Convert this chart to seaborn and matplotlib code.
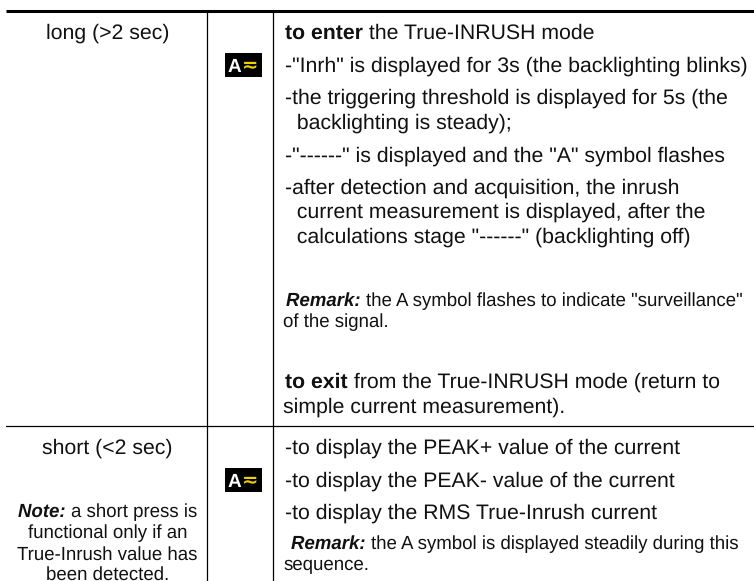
import seaborn as sns
import matplotlib.pyplot as plt
from matplotlib.patches import Rectangle

sns.set_theme(style="white")
plt.rcParams['font.family'] = ['Liberation Sans', 'DejaVu Sans']
plt.rcParams['text.hinting'] = 'no_hinting'

# table text, one list per cell block: (bold lead, plain text)
long_label = "long (>2 sec)"
short_label = "short (<2 sec)"
note_lines = ["a short press is", "functional only if an", "True-Inrush value has", "been detected."]
enter_lines = [("to enter", " the True-INRUSH mode"),
               ("", "-\"Inrh\" is displayed for 3s (the backlighting blinks)"),
               ("", "-the triggering threshold is displayed for 5s (the"),
               ("", "  backlighting is steady);"),
               ("", "-\"------\" is displayed and the \"A\" symbol flashes"),
               ("", "-after detection and acquisition, the inrush"),
               ("", "  current measurement is displayed, after the"),
               ("", "  calculations stage \"------\" (backlighting off)")]
exit_lines = [("to exit", " from the True-INRUSH mode (return to"),
              ("", "simple current measurement).")]
short_lines = ["-to display the PEAK+ value of the current",
               "-to display the PEAK- value of the current",
               "-to display the RMS True-Inrush current"]
remark_1 = ["the A symbol flashes to indicate \"surveillance\"", "of the signal."]
remark_2 = ["the A symbol is displayed steadily during this", "sequence."]

# baselines in pixels
enter_y = [39, 72, 104, 129, 162, 194, 218, 243]
short_y = [454, 487, 519]

FS = 15.3
FS_S = 13.45
INK = '#111111'

fig = plt.figure(figsize=(7.54, 5.81), dpi=100)
ax = fig.add_axes([0, 0, 1, 1])
ax.set_xlim(0, 754)
ax.set_ylim(581, 0)
ax.axis('off')
sns.despine(ax=ax, left=True, bottom=True)

ax.plot([6, 754], [10.5, 10.5], color='black', lw=2.2, solid_capstyle='butt')
ax.plot([6, 754], [426, 426], color='black', lw=0.9)
ax.plot([206.7, 206.7], [12, 581], color='black', lw=0.9)
ax.plot([273.4, 273.4], [12, 581], color='black', lw=0.9)


def put(x, y, txt, fs, **kw):
    return ax.text(x, y, txt, fontsize=fs, va='baseline', color=INK, **kw)


def lead(x, y, head, tail, fs, style='normal'):
    # draw head in bold, then tail straight after it
    if head:
        t = put(x, y, head, fs, fontweight='bold', fontstyle=style)
        x = t.get_window_extent(fig.canvas.get_renderer()).x1
    put(x, y, tail, fs)


def icon(x, y):
    ax.add_patch(Rectangle((x, y), 37, 24, color='black', lw=0, zorder=3))
    ax.text(x + 9, y + 19, "A", color='white', fontsize=13.7, fontweight='bold',
            ha='center', va='baseline', zorder=4)
    ax.text(x + 25, y + 13, "\u2242", color='#ecd000', fontsize=14, fontweight='bold',
            family='DejaVu Sans', ha='center', va='center', zorder=4)


icon(225, 53)
icon(225, 468)

put(107.5, 39, long_label, FS, ha='center')
put(107.5, 454, short_label, FS, ha='center')

for (head, tail), y in zip(enter_lines, enter_y):
    lead(285, y, head, tail, FS)
lead(285, 388, exit_lines[0][0], exit_lines[0][1], FS)
lead(283, 413, exit_lines[1][0], exit_lines[1][1], FS)
for txt, y in zip(short_lines, short_y):
    put(285, y, txt, FS)

lead(286, 306, "Remark: ", remark_1[0], FS_S, 'italic')
put(283, 327, remark_1[1], FS_S)
lead(291, 549, "Remark: ", remark_2[0], FS_S, 'italic')
put(283, 570, remark_2[1], FS_S)

lead(18, 517, "Note: ", note_lines[0], FS_S, 'italic')
for txt, y in zip(note_lines[1:], [538, 560, 579.5]):
    put(107.5, y, txt, FS_S, ha='center')

fig.savefig("out.png", dpi=100)
